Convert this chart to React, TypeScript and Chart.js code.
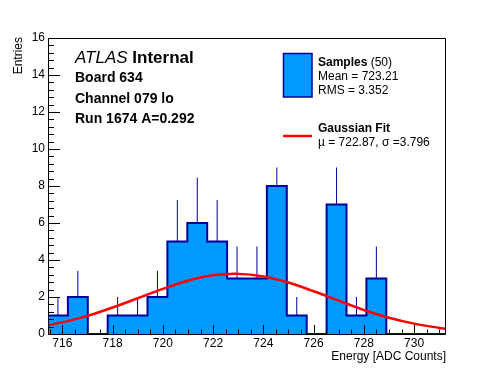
import React, { useEffect, useRef } from 'react';
import { Chart, registerables } from 'chart.js';

Chart.register(...registerables);

// ---- data ----
const binEdges = [
  715.43, 716.222, 717.014, 717.806, 718.598, 719.39, 720.182, 720.974, 721.766, 722.558,
  723.35, 724.142, 724.934, 725.726, 726.518, 727.31, 728.102, 728.894, 729.686, 730.478, 731.27,
];
const binCounts = [1, 2, 0, 1, 1, 2, 5, 6, 5, 3, 3, 8, 1, 0, 7, 1, 3, 0, 0, 0];
const errorTops = [2, 3.41, 0, 2, 2, 3.41, 7.24, 8.45, 7.24, 4.73, 4.73, 9, 2, 0, 9, 2, 4.73, 0, 0, 0];

const fitX = [715.43, 716, 717, 718, 719, 720, 721, 722, 723, 724, 725, 726, 727, 728, 729, 730, 731, 731.27];
const fitY = [0.48, 0.63, 0.98, 1.43, 1.93, 2.44, 2.88, 3.17, 3.25, 3.11, 2.78, 2.31, 1.8, 1.3, 0.88, 0.56, 0.33, 0.28];

const xTickLabels = [716, 718, 720, 722, 724, 726, 728, 730];
const yTickLabels = [0, 2, 4, 6, 8, 10, 12, 14, 16];

const xAxisTitle = 'Energy [ADC Counts]';
const yAxisTitle = 'Entries';
const infoLines = ['Board 634', 'Channel 079 lo', 'Run 1674 A=0.292'];
const legendSamples = { bold: 'Samples', rest: ' (50)', lines: ['Mean = 723.21', 'RMS = 3.352'] };
const legendFit = { bold: 'Gaussian Fit', lines: ['\u00b5 = 722.87, \u03c3 =3.796'] };

const FILL = '#0099ff';
const NAVY = '#000099';
const RED = '#ff0000';
const FONT = "'Liberation Sans', Arial, Helvetica, sans-serif";

const X_MIN = binEdges[0];
const X_MAX = binEdges[binEdges.length - 1];

const framePlugin = {
  id: 'rootFrame',
  afterDatasetsDraw(chart: any) {
    const { ctx, chartArea: a, scales } = chart;
    const xs = scales.x;
    const ys = scales.y;
    ctx.save();
    ctx.strokeStyle = '#000';
    ctx.lineWidth = 1;
    ctx.beginPath();
    ctx.rect(a.left + 0.5, a.top + 0.5, a.right - a.left - 1, a.bottom - a.top);
    ctx.stroke();
    // x ticks (inward)
    ctx.beginPath();
    for (let v = 715.5; v <= X_MAX + 1e-6; v += 0.5) {
      const px = Math.round(xs.getPixelForValue(v)) + 0.5;
      const major = Math.abs(v / 2 - Math.round(v / 2)) < 1e-6;
      const len = major ? 9 : 4.5;
      ctx.moveTo(px, a.bottom);
      ctx.lineTo(px, a.bottom - len);
    }
    // y ticks (inward)
    for (let i = 0; i <= 40; i++) {
      const v = i * 0.4;
      const py = Math.round(ys.getPixelForValue(v)) + 0.5;
      const major = i % 5 === 0;
      const len = major ? 12 : 6;
      ctx.moveTo(a.left, py);
      ctx.lineTo(a.left + len, py);
    }
    ctx.stroke();
    ctx.restore();
  },
  afterDraw(chart: any) {
    const { ctx, chartArea: a } = chart;
    ctx.save();
    ctx.fillStyle = '#000';
    ctx.textBaseline = 'alphabetic';
    ctx.textAlign = 'left';
    // ATLAS Internal
    ctx.font = `italic 17px ${FONT}`;
    ctx.fillText('ATLAS', 75, 63);
    const w = ctx.measureText('ATLAS ').width;
    ctx.font = `bold 17px ${FONT}`;
    ctx.fillText('Internal', 75 + w, 63);
    ctx.font = `bold 14px ${FONT}`;
    infoLines.forEach((t, i) => ctx.fillText(t, 75, 82 + i * 20.5));

    // legend
    ctx.fillStyle = FILL;
    ctx.fillRect(283, 53, 29, 44);
    ctx.strokeStyle = NAVY;
    ctx.lineWidth = 1.5;
    ctx.strokeRect(283.5, 53.5, 28.5, 43.5);
    ctx.fillStyle = '#000';
    ctx.font = `bold 12px ${FONT}`;
    ctx.fillText(legendSamples.bold, 318, 66);
    const sw = ctx.measureText(legendSamples.bold).width;
    ctx.font = `12px ${FONT}`;
    ctx.fillText(legendSamples.rest, 318 + sw, 66);
    legendSamples.lines.forEach((t, i) => ctx.fillText(t, 318, 80 + i * 14));

    ctx.strokeStyle = RED;
    ctx.lineWidth = 2.5;
    ctx.beginPath();
    ctx.moveTo(283, 136);
    ctx.lineTo(312, 136);
    ctx.stroke();
    ctx.font = `bold 12px ${FONT}`;
    ctx.fillText(legendFit.bold, 318, 132);
    ctx.font = `12px ${FONT}`;
    legendFit.lines.forEach((t, i) => ctx.fillText(t, 318, 146 + i * 14));

    // axis titles
    ctx.font = `12px ${FONT}`;
    ctx.textAlign = 'right';
    ctx.fillText(xAxisTitle, a.right, 360);
    ctx.translate(22, a.top - 1);
    ctx.rotate(-Math.PI / 2);
    ctx.textAlign = 'right';
    ctx.fillText(yAxisTitle, 0, 0);
    ctx.restore();
  },
};

export default function App() {
  const ref = useRef<HTMLCanvasElement | null>(null);

  useEffect(() => {
    document.body.style.margin = '0';
    const canvas = ref.current;
    if (!canvas) return;

    const histPoints = binEdges.map((e, i) => ({
      x: e,
      y: i < binCounts.length ? binCounts[i] : 0,
    }));

    const errPoints: { x: number; y: number | null }[] = [];
    binCounts.forEach((c, i) => {
      if (c <= 0) return;
      const cx = (binEdges[i] + binEdges[i + 1]) / 2;
      errPoints.push({ x: cx, y: c });
      errPoints.push({ x: cx, y: errorTops[i] });
      errPoints.push({ x: cx, y: null });
    });

    const fitPoints = fitX.map((x, i) => ({ x, y: fitY[i] }));

    const chart = new Chart(canvas, {
      type: 'line',
      data: {
        datasets: [
          {
            label: 'Gaussian Fit',
            data: fitPoints,
            borderColor: RED,
            borderWidth: 2.5,
            pointRadius: 0,
            tension: 0.35,
            fill: false,
            order: 0,
          },
          {
            label: 'errors',
            data: errPoints as any,
            borderColor: NAVY,
            borderWidth: 1,
            pointRadius: 0,
            spanGaps: false,
            fill: false,
            order: 1,
          },
          {
            label: 'Samples',
            data: histPoints,
            borderColor: NAVY,
            backgroundColor: FILL,
            borderWidth: 2,
            pointRadius: 0,
            stepped: 'before',
            fill: 'origin',
            order: 2,
          },
        ],
      },
      options: {
        animation: false,
        responsive: false,
        maintainAspectRatio: false,
        events: [],
        layout: { padding: { top: 38, right: 50, left: 0, bottom: 0 } },
        plugins: {
          legend: { display: false },
          title: { display: false },
          tooltip: { enabled: false },
        },
        scales: {
          x: {
            type: 'linear',
            min: X_MIN,
            max: X_MAX,
            afterBuildTicks: (s: any) => {
              s.ticks = xTickLabels.map((v) => ({ value: v }));
            },
            afterFit: (s: any) => {
              s.height = 38;
            },
            ticks: {
              autoSkip: false,
              maxRotation: 0,
              minRotation: 0,
              padding: 2,
              color: '#000',
              font: { family: FONT, size: 12 },
              callback: (v: any) => String(v),
            },
            grid: { display: false, drawTicks: false },
            border: { display: false },
          },
          y: {
            type: 'linear',
            min: 0,
            max: 16,
            afterBuildTicks: (s: any) => {
              s.ticks = yTickLabels.map((v) => ({ value: v }));
            },
            afterFit: (s: any) => {
              s.width = 48;
            },
            ticks: {
              autoSkip: false,
              padding: 3,
              color: '#000',
              font: { family: FONT, size: 12 },
              callback: (v: any) => String(v),
            },
            grid: { display: false, drawTicks: false },
            border: { display: false },
          },
        },
      },
      plugins: [framePlugin],
    });

    return () => chart.destroy();
  }, []);

  return (
    <div style={{ position: 'absolute', left: 0, top: 0, width: 496, height: 372, background: '#fff' }}>
      <canvas ref={ref} width={496} height={372} style={{ display: 'block', width: 496, height: 372 }} />
    </div>
  );
}
